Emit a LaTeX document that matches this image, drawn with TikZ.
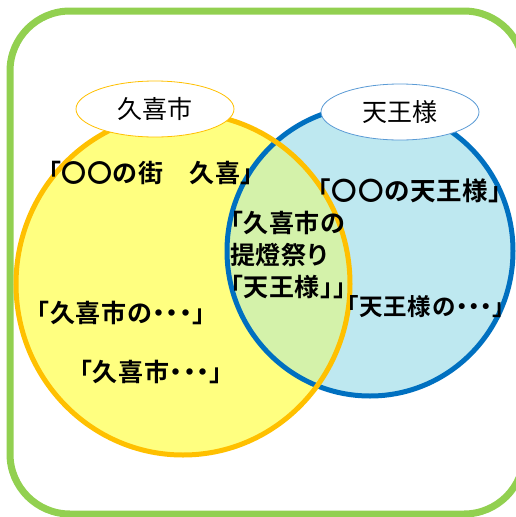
\documentclass[tikz,border=0pt]{standalone}
\usepackage{fontspec}
\newfontfamily\jpfont{Noto Sans CJK JP}[RawFeature=+palt, BoldFont={* Bold}]
\newfontfamily\jpbold{Noto Sans CJK JP Bold}[RawFeature=+palt, LetterSpace=3]
\usetikzlibrary{shapes.geometric}
\definecolor{framegreen}{RGB}{146,208,80}
\definecolor{kukiline}{RGB}{255,192,0}
\definecolor{kukifill}{RGB}{255,255,128}
\definecolor{tennoline}{RGB}{0,112,192}
\definecolor{tennofill}{RGB}{190,232,240}
\definecolor{bothfill}{RGB}{212,242,170}
\definecolor{headline}{RGB}{91,155,213}

\begin{document}
\begin{tikzpicture}[x=1pt, y=-1pt,
  txt/.style={font=\jpbold\fontsize{25}{32}\selectfont, inner sep=0pt},
  head/.style={ellipse, fill=white, line width=0.8pt, minimum width=158pt, minimum height=56pt, inner sep=0pt, font=\jpfont\fontsize{25}{30}\selectfont}]
  \useasboundingbox (0,0) rectangle (516,517);
  \draw[framegreen, line width=7pt, rounded corners=60pt] (10,11) rectangle (524,514);
  % circles
  \fill[kukifill] (183,284) ellipse [x radius=167, y radius=171];
  \fill[tennofill] (370,251) ellipse [x radius=143, y radius=145];
  \begin{scope}
    \clip (183,284) ellipse [x radius=167, y radius=171];
    \fill[bothfill] (370,251) ellipse [x radius=143, y radius=145];
  \end{scope}
  \draw[tennoline, line width=5pt] (370,251) ellipse [x radius=143, y radius=145];
  \draw[kukiline, line width=5pt] (183,284) ellipse [x radius=167, y radius=171];
  % headings
  \node[head, draw=kukiline] (kuki) at (155,109) {久喜市};
  \node[head, draw=headline] (tenno) at (400,112) {天王様};
  % texts
  \node[txt] (machi) at (151,173) {「〇〇の街　久喜」};
  \node[txt, font=\jpbold\fontsize{25.5}{32}\selectfont] (maru) at (410,191) {「〇〇の天王様」};
  \node[txt, align=left, anchor=west] (matsuri) at (230,255) {「久喜市の\\提燈祭り\\「天王様」」};
  \node[txt, font=\jpbold\fontsize{23.5}{32}\selectfont] (tennono) at (426,307) {「天王様の・・・」};
  \node[txt] (kukino) at (121,313) {「久喜市の・・・」};
  \node[txt] (kukidots) at (151,372) {「久喜市・・・」};
\end{tikzpicture}
\end{document}
